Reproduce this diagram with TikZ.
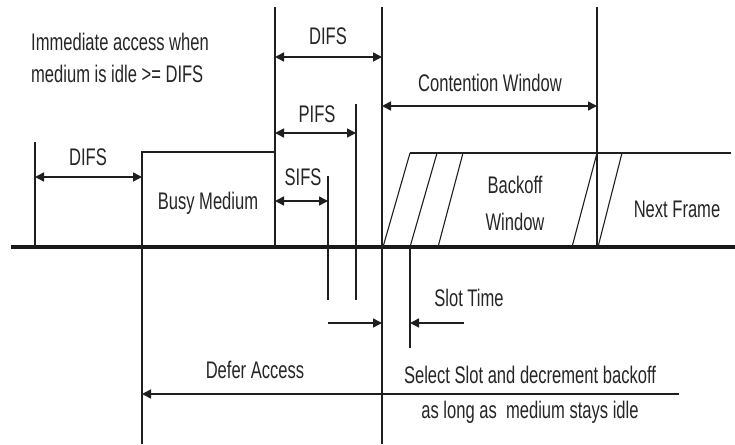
\documentclass[tikz,border=0pt]{standalone}
\usepackage{fontspec}
\setmainfont[FakeStretch=0.69]{Liberation Sans}
\usetikzlibrary{arrows.meta}
\begin{document}
\begin{tikzpicture}[x=1pt,y=-1pt,
  ln/.style={line width=1.1pt, draw=black!88},
  axis/.style={line width=3.2pt, draw=black!90},
  dimarrow/.style={line width=1.6pt, draw=black!88, {Triangle[length=9pt,width=9pt]}-{Triangle[length=9pt,width=9pt]}},
  onearrow/.style={line width=1.6pt, draw=black!88, -{Triangle[length=9pt,width=9pt]}},
  lbl/.style={text=black!85, font=\fontsize{24}{28}\selectfont, inner sep=0pt, anchor=base},
  ]
\fill[white] (0,0) rectangle (735,444);
\useasboundingbox (0,0) rectangle (735,444);

% coordinates
\coordinate (axL) at (11,247);  \coordinate (axR) at (735,247);
\coordinate (v1t) at (35,142);  \coordinate (v1b) at (35,247);
\coordinate (bmt) at (142,152); \coordinate (bmb) at (142,444);
\coordinate (bmr) at (275,152);
\coordinate (v2t) at (275,7);   \coordinate (v2b) at (275,247);
\coordinate (sft) at (328,176); \coordinate (sfb) at (328,300);
\coordinate (pft) at (356,104); \coordinate (pfb) at (356,300);
\coordinate (dft) at (382,7);   \coordinate (dfb) at (382,444);
\coordinate (slt) at (410,247); \coordinate (slb) at (410,348);
\coordinate (cwt) at (597,7);   \coordinate (cwb) at (597,247);

% axis
\draw[axis] (axL) -- (axR);

% verticals
\draw[ln] (v1t) -- (v1b);
\draw[ln] (bmb) -- (bmt) -- (bmr);
\draw[ln] (v2t) -- (v2b);
\draw[ln] (sft) -- (sfb);
\draw[ln] (pft) -- (pfb);
\draw[ln] (dft) -- (dfb);
\draw[ln] (slt) -- (slb);
\draw[ln] (cwt) -- (cwb);

% backoff window frame
\coordinate (bwl) at (410,153); \coordinate (bwr) at (731,153);
\draw[ln] (bwl) -- (bwr);
\draw[ln] (383,247) -- (bwl);
\draw[ln] (410,247) -- (437,153);
\draw[ln] (438,247) -- (463,153);
\draw[ln] (572,247) -- (597,153);
\draw[ln] (598,247) -- (622,153);

% dimension arrows
\draw[dimarrow] (v1t |- 0,177) -- (bmt |- 0,177);
\draw[dimarrow] (v2t |- 0,57) -- (dft |- 0,57);
\draw[dimarrow] (v2t |- 0,133) -- (pft |- 0,133);
\draw[dimarrow] (v2t |- 0,201) -- (sft |- 0,201);
\draw[dimarrow] (dft |- 0,106) -- (cwt |- 0,106);
\draw[onearrow] (sft |- 0,323) -- (dft |- 0,323);
\draw[onearrow] (464,323) -- (slt |- 0,323);
\draw[onearrow] (679,394) -- (bmt |- 0,394);

% labels
\node[lbl, anchor=base west] (t1) at (31,50) {Immediate access when};
\node[lbl, anchor=base west] (t2) at (31,82) {medium is idle >= DIFS};
\node[lbl] (difs1) at (88,165) {DIFS};
\node[lbl] (difs2) at (328,45) {DIFS};
\node[lbl] (pifs) at (317,122) {PIFS};
\node[lbl] (sifs) at (303,185) {SIFS};
\node[lbl] (busy) at (208,209) {Busy Medium};
\node[lbl] (cw) at (490,91) {Contention Window};
\node[lbl] (bo1) at (515,193) {Backoff};
\node[lbl] (bo2) at (515,230) {Window};
\node[lbl] (nf) at (677,217) {Next Frame};
\node[lbl] (st) at (469,306) {Slot Time};
\node[lbl] (da) at (255,378) {Defer Access};
\node[lbl] (ss1) at (530,383) {Select Slot and decrement backoff};
\node[lbl] (ss2) at (530,418) {as long as~ medium stays idle};
\end{tikzpicture}
\end{document}
